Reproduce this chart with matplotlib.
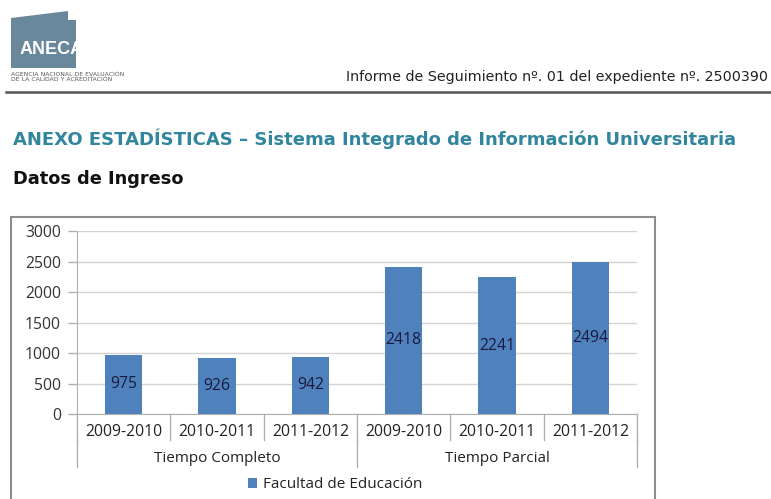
import matplotlib
matplotlib.use("Agg")
import matplotlib.pyplot as plt
from matplotlib.patches import Polygon, Rectangle
from matplotlib.transforms import blended_transform_factory

# ---- data ----
years = ["2009-2010", "2010-2011", "2011-2012", "2009-2010", "2010-2011", "2011-2012"]
groups = ["Tiempo Completo", "Tiempo Parcial"]
group_sizes = [3, 3]
values = [975, 926, 942, 2418, 2241, 2494]
series_name = "Facultad de Educación"
yticks = [0, 500, 1000, 1500, 2000, 2500, 3000]

header_text = "Informe de Seguimiento nº. 01 del expediente nº. 2500390"
title_text = "ANEXO ESTADÍSTICAS – Sistema Integrado de Información Universitaria"
subtitle_text = "Datos de Ingreso"
logo_text = "ANECA"
logo_sub = ["AGENCIA NACIONAL DE EVALUACIÓN", "DE LA CALIDAD Y ACREDITACIÓN"]

W, H = 771, 499
fig = plt.figure(figsize=(W / 100, H / 100), dpi=100)
fig.patch.set_facecolor("white")


def fx(x):
    return x / W


def fy(y):
    return 1 - y / H


# ---- logo ----
logo_col = "#6a889b"
logo_pts = [(11, 18), (68, 11), (68, 20), (76, 20), (76, 68), (11, 68)]
fig.patches.append(Polygon([(fx(x), fy(y)) for x, y in logo_pts], closed=True,
                           transform=fig.transFigure, facecolor=logo_col,
                           edgecolor="none"))
fig.text(fx(20), fy(49), logo_text, color="white", fontsize=13, fontweight="bold",
         family="Liberation Sans", ha="left", va="center")
# white cover to clip text beyond logo edge
fig.patches.append(Rectangle((fx(76), fy(62)), fx(20), 16 / H, transform=fig.transFigure,
                             facecolor="white", edgecolor="none", zorder=5))
fig.text(fx(11), fy(74), logo_sub[0], color="#555555", fontsize=4.4,
         family="DejaVu Sans", ha="left", va="center", zorder=6)
fig.text(fx(11), fy(79.5), logo_sub[1], color="#555555", fontsize=4.4,
         family="DejaVu Sans", ha="left", va="center", zorder=6)

# ---- header ----
fig.text(fx(768), fy(77), header_text, fontsize=10.3, family="DejaVu Sans",
         color="#222222", ha="right", va="center")
fig.lines.append(plt.Line2D([fx(6), fx(771)], [fy(91.5), fy(91.5)], transform=fig.transFigure,
                            color="#555555", linewidth=1.8))

fig.text(fx(13), fy(139), title_text, fontsize=13, fontweight="bold",
         family="DejaVu Sans", color="#31859c", ha="left", va="center")
fig.text(fx(13), fy(179), subtitle_text, fontsize=12.8, fontweight="bold",
         family="DejaVu Sans", color="#111111", ha="left", va="center")

# ---- chart border ----
fig.patches.append(Rectangle((fx(11), fy(510)), fx(655 - 11), (510 - 217) / H,
                             transform=fig.transFigure, facecolor="none",
                             edgecolor="#8c8c8c", linewidth=1.5))

# ---- chart ----
x0, x1, ytop, ybot = 77, 637, 231, 414
ax = fig.add_axes([fx(x0), fy(ybot), (x1 - x0) / W, (ybot - ytop) / H])
ax.set_facecolor("none")
cf = "Open Sans"
numsize = 11.3
txtsize = 11
pos = list(range(len(values)))
bars = ax.bar(pos, values, width=0.4, color="#4f81bd", zorder=3)
for p, v in zip(pos, values):
    ax.text(p, v / 2, str(v), ha="center", va="center", fontsize=numsize,
            family=cf, color="#1a1a40", zorder=4)

ax.set_xlim(-0.5, len(values) - 0.5)
ax.set_ylim(0, 3000)
ax.set_yticks(yticks)
ax.set_yticklabels([str(t) for t in yticks], family=cf, fontsize=numsize, color="#333333")
ax.yaxis.grid(True, color="#d4d4d4", linewidth=1, zorder=0)
ax.tick_params(axis="y", length=6.5, width=1, color="#b0b0b0", pad=5)
for s in ["top", "right"]:
    ax.spines[s].set_visible(False)
ax.spines["left"].set_color("#b0b0b0")
ax.spines["bottom"].set_color("#b0b0b0")

ax.set_xticks(pos)
ax.set_xticklabels(years, family=cf, fontsize=numsize, color="#222222")
ax.tick_params(axis="x", length=0, pad=7.5)

ah = ybot - ytop
tr = blended_transform_factory(ax.transData, ax.transAxes)
# category separators
for i in range(len(values) + 1):
    xb = i - 0.5
    ax.plot([xb, xb], [0, -26 / ah], transform=tr, color="#b0b0b0", linewidth=1,
            clip_on=False)
# group separators and labels
start = 0
edges = [-0.5]
for g, n in zip(groups, group_sizes):
    ax.text(start + (n - 1) / 2, -44 / ah, g, transform=tr, ha="center", va="center",
            family=cf, fontsize=txtsize, color="#222222")
    start += n
    edges.append(start - 0.5)
for xb in edges:
    ax.plot([xb, xb], [-26 / ah, -53 / ah], transform=tr, color="#b0b0b0", linewidth=1,
            clip_on=False)

# legend
leg = fig.legend([bars], [series_name], loc="center", bbox_to_anchor=(fx(335), fy(485)),
                 frameon=False, prop={"family": cf, "size": txtsize}, handlelength=0.6,
                 handleheight=0.6, handletextpad=0.4)
for t in leg.get_texts():
    t.set_color("#222222")

fig.savefig("out.png", dpi=100)
